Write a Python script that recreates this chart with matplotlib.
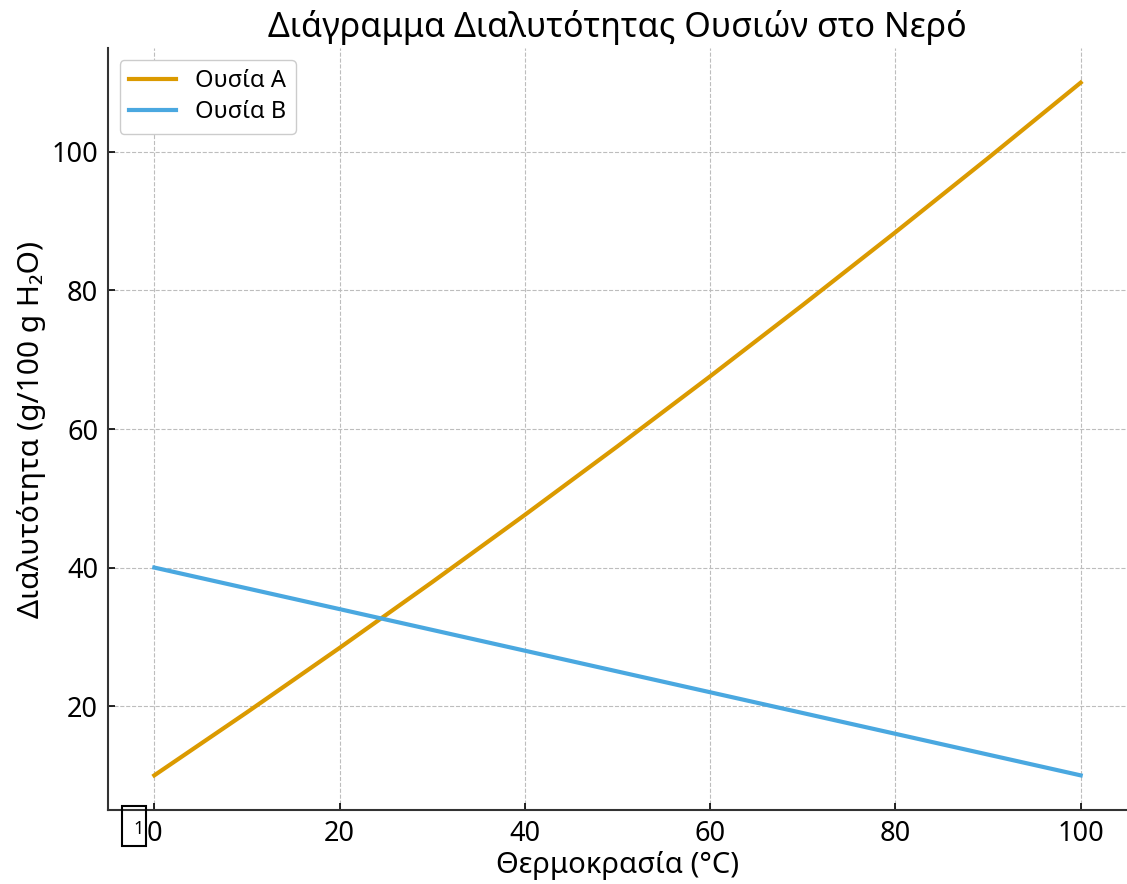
import numpy as np
import matplotlib.pyplot as plt
from matplotlib.patches import Rectangle

temp = [0, 10, 20, 30, 40, 50, 60, 70, 80, 90, 100]
ousia_a = [10, 19.1, 28.4, 37.9, 47.6, 57.5, 67.6, 77.9, 88.4, 99.1, 110]
ousia_b = [40, 37, 34, 31, 28, 25, 22, 19, 16, 13, 10]

plt.rcParams['font.family'] = ['Noto Sans', 'DejaVu Sans']

fig = plt.figure(figsize=(11.27, 8.84), dpi=100)
ax = fig.add_axes([0.0958, 0.0837, 0.9042, 0.862])

ax.plot(temp, ousia_a, color='#DB9A00', lw=3, label='Ουσία A')
ax.plot(temp, ousia_b, color='#4AA8E0', lw=3, label='Ουσία B')

ax.set_xlim(-5, 105)
ax.set_ylim(5, 115)
ax.set_xticks([0, 20, 40, 60, 80, 100])
ax.set_yticks([20, 40, 60, 80, 100])
ax.grid(True, ls='--', color='#bdbdbd', lw=0.8)
ax.tick_params(direction='in', labelsize=19.5, length=5, width=1.2, pad=7)
for s in ['top', 'right']:
    ax.spines[s].set_visible(False)
for s in ['left', 'bottom']:
    ax.spines[s].set_linewidth(1.5)
    ax.spines[s].set_color('#333333')

ax.set_title('Διάγραμμα Διαλυτότητας Ουσιών στο Νερό', fontsize=24.5, pad=8)
ax.set_xlabel('Θερμοκρασία (°C)', fontsize=21, labelpad=2)
ax.set_ylabel('Διαλυτότητα (g/100 g H₂O)', fontsize=21.5, labelpad=4)
ax.legend(loc='upper left', fontsize=17, framealpha=1, edgecolor='#cccccc',
          handlelength=2.0, borderpad=0.4, labelspacing=0.3)

# stray box near the origin tick
fig.patches.append(Rectangle((122 / 1127, 1 - 846 / 884), 24 / 1127, 40 / 884,
                             transform=fig.transFigure, fill=False, ec='black', lw=1.5))
fig.text(139 / 1127, 1 - 829 / 884, '1', fontsize=13, ha='center', va='center')

fig.savefig('out.png', dpi=100)
